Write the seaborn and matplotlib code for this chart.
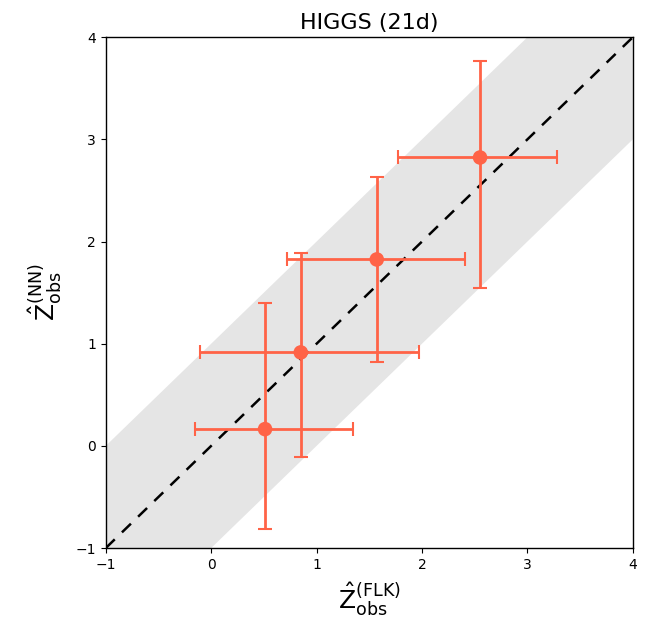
import matplotlib
matplotlib.use("Agg")
import matplotlib.pyplot as plt
import numpy as np
import pandas as pd
import seaborn as sns

# observed significances: FLK (x) vs NN (y), with asymmetric intervals
z_flk = [0.511, 0.850, 1.571, 2.551]
z_flk_lo = [-0.149, -0.108, 0.720, 1.770]
z_flk_hi = [1.341, 1.967, 2.409, 3.282]
z_nn = [0.164, 0.915, 1.825, 2.823]
z_nn_lo = [-0.817, -0.107, 0.823, 1.544]
z_nn_hi = [1.400, 1.884, 2.630, 3.768]

df = pd.DataFrame({'flk': z_flk, 'nn': z_nn})
xerr = [np.array(z_flk) - np.array(z_flk_lo), np.array(z_flk_hi) - np.array(z_flk)]
yerr = [np.array(z_nn) - np.array(z_nn_lo), np.array(z_nn_hi) - np.array(z_nn)]

sns.set_style('ticks', rc={'axes.edgecolor': 'black', 'xtick.color': 'black',
                           'ytick.color': 'black', 'text.color': 'black',
                           'axes.labelcolor': 'black'})
plt.rcParams['font.family'] = ['DejaVu Sans']

fig = plt.figure(figsize=(6.49, 6.21), dpi=100)
ax = fig.add_axes([0.163, 0.1175, 0.812, 0.8225])

grid = np.linspace(-1, 4, 200)
ax.fill_between(grid, grid - 1, grid + 1, color='#e5e5e5', linewidth=0, zorder=0)
ax.plot(grid, grid, ls='--', color='black', lw=1.8, dashes=(5, 4), zorder=1)

ax.errorbar(df['flk'], df['nn'], xerr=xerr, yerr=yerr, fmt='none',
            ecolor='tomato', elinewidth=2, capsize=5, capthick=1.5, zorder=2)
sns.scatterplot(data=df, x='flk', y='nn', ax=ax, color='tomato', s=110,
                edgecolor='none', zorder=3)

ax.set_xlim(-1, 4)
ax.set_ylim(-1, 4)
ax.set_xticks([-1, 0, 1, 2, 3, 4])
ax.set_yticks([-1, 0, 1, 2, 3, 4])
for s in ax.spines.values():
    s.set_visible(True)
    s.set_linewidth(1)
ax.tick_params(labelsize=10, direction='out', length=3.5, colors='black')

ax.set_title('HIGGS (21d)', fontsize=16)
ax.set_xlabel(r'$\hat{\mathrm{Z}}_{\mathrm{obs}}^{\mathrm{(FLK)}}$', fontsize=18, labelpad=6)
ax.set_ylabel(r'$\hat{\mathrm{Z}}_{\mathrm{obs}}^{\mathrm{(NN)}}$', fontsize=18, labelpad=8)

fig.savefig('out.png', dpi=100)
